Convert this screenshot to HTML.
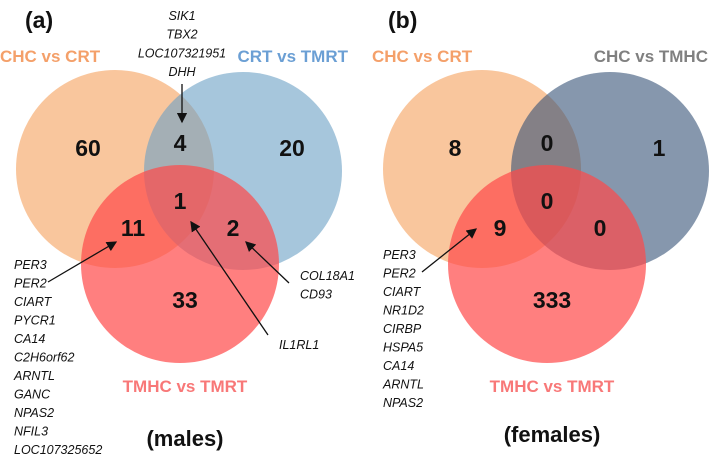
<!DOCTYPE html>
<html><head><meta charset="utf-8"><style>
body{margin:0;background:#fff}
svg{display:block;font-family:"Liberation Sans",sans-serif}
.n{font-weight:bold;font-size:23px;text-anchor:middle;dominant-baseline:middle;fill:#111}
.g{font-style:italic;font-size:12.5px;fill:#111}
.t{font-size:17px;font-weight:bold}
</style></head><body>
<svg width="709" height="454" viewBox="0 0 709 454">
<defs><marker id="ah" markerWidth="8" markerHeight="8" refX="7" refY="4" orient="auto"><path d="M0,0 L8,4 L0,8 Z" fill="#111"/></marker></defs>
<g id="panels"></g>
</svg>
<script>
const panelLabels=["(a)","(b)"];
const panelTitles=["(males)","(females)"];
const setNames=[["CHC vs CRT","CRT vs TMRT","TMHC vs TMRT"],["CHC vs CRT","CHC vs TMHC","TMHC vs TMRT"]];
const countsA=[60,4,20,1,11,2,33];
const countsB=[8,0,1,0,9,0,333];
const genesA11=["PER3","PER2","CIART","PYCR1","CA14","C2H6orf62","ARNTL","GANC","NPAS2","NFIL3","LOC107325652"];
const genesA4=["SIK1","TBX2","LOC107321951","DHH"];
const genesA2=["COL18A1","CD93"];
const genesA1=["IL1RL1"];
const genesB9=["PER3","PER2","CIART","NR1D2","CIRBP","HSPA5","CA14","ARNTL","NPAS2"];
const NS="http://www.w3.org/2000/svg";
const root=document.getElementById('panels');
function mk(tag,attrs,parent,txt){const e=document.createElementNS(NS,tag);for(const k in attrs)e.setAttribute(k,attrs[k]);if(txt!==undefined)e.textContent=txt;(parent||root).appendChild(e);return e;}
const regOff=[[-27,-20],[65,-25],[177,-20],[65,33],[18,60],[118,60],[70,132]];
function panel(ox,counts,names,cols){
  const g=mk('g',{});
  
  
  const cx=[ox,ox+128,ox+65],cy=[169,171,264];
  for(let i=0;i<3;i++){const c=mk('circle',{cx:cx[i],cy:cy[i],r:99,fill:cols[i]},g);
    
    }
  for(let i=0;i<7;i++){const t=mk('text',{x:ox+regOff[i][0],y:170+regOff[i][1],class:'n'},g,counts[i]);
    
    }
  return g;
}
const ga=panel(115,countsA,setNames[0],["rgba(245,160,92,0.6)","rgba(107,160,197,0.6)","rgba(255,72,72,0.7)"]);
const gb=panel(482,countsB,setNames[1],["rgba(245,160,92,0.6)","rgba(53,82,118,0.6)","rgba(255,72,72,0.7)"]);
function txt(x,y,s,cls,fill,anchor,name){const t=mk('text',{x:x,y:y,class:cls,fill:fill||'#111','text-anchor':anchor||'start'},root,s);
  
  return t;}
txt(25,28,"(a)","t","#111","start","panel-label-a").setAttribute('style','font-size:23px');
txt(388,28,"(b)","t","#111","start","panel-label-b").setAttribute('style','font-size:23px');
txt(0,62,setNames[0][0],"t","#f4a06a","start","set-label-chc-crt");
txt(348,62,setNames[0][1],"t","#6b9fd4","end","set-label-crt-tmrt");
txt(185,392,setNames[0][2],"t","#f87878","middle","set-label-tmhc-tmrt");
txt(372,62,setNames[1][0],"t","#f4a06a","start","set-label-chc-crt-b");
txt(708,62,setNames[1][1],"t","#808080","end","set-label-chc-tmhc");
txt(552,392,setNames[1][2],"t","#f87878","middle","set-label-tmhc-tmrt-b");
txt(185,446,panelTitles[0],"t","#111","middle","subtitle-males").setAttribute('style','font-size:22px;font-weight:bold');
txt(552,442,panelTitles[1],"t","#111","middle","subtitle-females").setAttribute('style','font-size:22px;font-weight:bold');
genesA4.forEach((s,i)=>txt(182,20+i*18.7,s,"g","#111","middle","gene-label"));
genesA11.forEach((s,i)=>txt(14,269+i*18.5,s,"g","#111","start","gene-label"));
genesA2.forEach((s,i)=>txt(300,280+i*18.5,s,"g","#111","start","gene-label"));
genesA1.forEach((s,i)=>txt(279,349,s,"g","#111","start","gene-label"));
genesB9.forEach((s,i)=>txt(383,259+i*18.5,s,"g","#111","start","gene-label"));
function arrow(x1,y1,x2,y2){const l=mk('line',{x1:x1,y1:y1,x2:x2,y2:y2,stroke:'#111','stroke-width':1.3,'marker-end':'url(#ah)'});
  
  }
arrow(182,84,182,122);arrow(48,282,116,242);arrow(268,335,191,222);arrow(289,283,246,242);arrow(422,272,476,229);
</script>
</body></html>
